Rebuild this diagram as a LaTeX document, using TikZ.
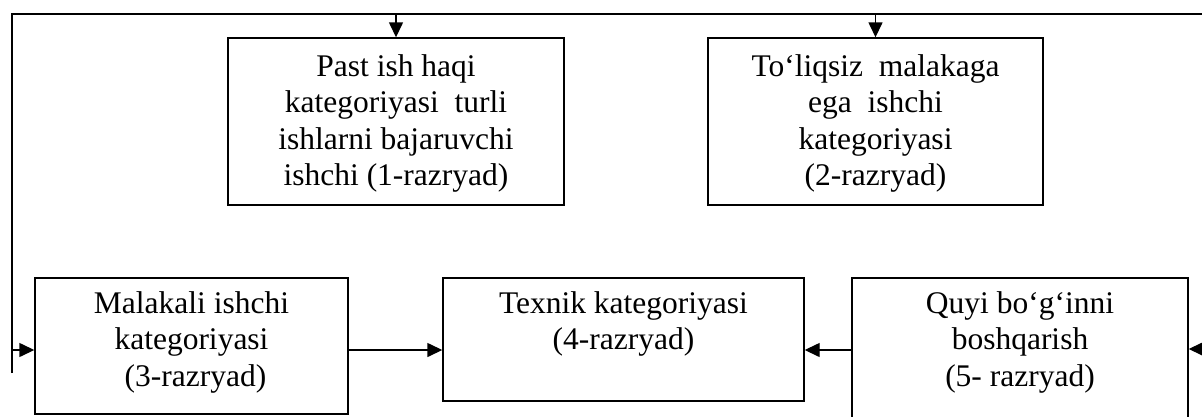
\documentclass[tikz,border=0pt]{standalone}
\usepackage{fontspec}
\setmainfont{Liberation Serif}
\usetikzlibrary{arrows.meta}

\begin{document}
\begin{tikzpicture}[x=1pt,y=1pt,
    box/.style={draw, line width=1.4pt, inner sep=0pt},
    txt/.style={align=center, inner sep=0pt, anchor=north, label distance=0pt,
      font=\fontsize{31.5}{36.5}\selectfont},
    arr/.style={-{Triangle[length=15pt,width=14pt]}, line width=1.4pt}]
  \def\topy{-14}
  \def\leftx{12}
  \def\arry{-350}
  \useasboundingbox (0,0) rectangle (1202,-416);
  %upper row
  \node[box, minimum width=336, minimum height=167,
    label={[txt, yshift=-17pt]north:{Past ish haqi\\kategoriyasi\ \ turli\\ishlarni bajaruvchi\\ishchi (1-razryad)}}]
    (r1) at (396,-121.5) {};
  \node[box, minimum width=335, minimum height=167,
    label={[txt, yshift=-17pt]north:{To‘liqsiz\ \ malakaga\\ega\ \ ishchi\\kategoriyasi\\(2-razryad)}}]
    (r2) at (875.5,-121.5) {};
  %lower row
  \node[box, minimum width=313, minimum height=136,
    label={[txt, yshift=-14pt]north:{Malakali ishchi\\kategoriyasi\\\ (3-razryad)}}]
    (r3) at (191.5,-346) {};
  \node[box, minimum width=361, minimum height=123,
    label={[txt, yshift=-14pt]north:{Texnik kategoriyasi\\(4-razryad)}}]
    (r4) at (623.5,-339.5) {};
  \node[box, minimum width=336, minimum height=150,
    label={[txt, yshift=-14pt]north:{Quyi bo‘g‘inni\\boshqarish\\(5- razryad)}}]
    (r5) at (1020,-353) {};

  %feedback line
  \coordinate (lb) at (\leftx,-373);
  \coordinate (lt) at (\leftx,\topy);
  \coordinate (rt) at (1202,\topy);
  \coordinate (ya) at (0,\arry);
  \coordinate (rs) at (1202,-349);
  \draw[line width=1.4pt] (lb) -- (lt) -- (rt);
  \draw[arr] (r1.north |- lt) -- (r1.north);
  \draw[arr] (r2.north |- lt) -- (r2.north);
  \draw[arr] (lt |- ya) -- (r3.west |- ya);

  %lower arrows
  \draw[arr] (r3.east |- ya) -- (r4.west |- ya);
  \draw[arr] (r5.west |- ya) -- (r4.east |- ya);
  \draw[arr] (rs) -- (r5.east |- rs);
\end{tikzpicture}
\end{document}
